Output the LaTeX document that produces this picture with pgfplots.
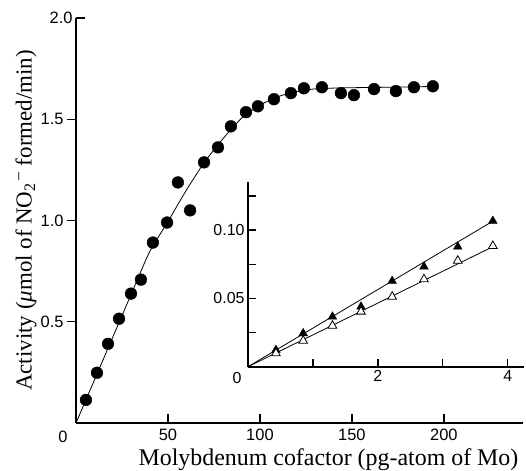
\documentclass[border=0pt]{standalone}
\usepackage{fontspec}
\setmainfont{Liberation Serif}
\newfontfamily\tickfont{Liberation Sans}
\usepackage{pgfplots}
\pgfplotsset{compat=1.18}
\begin{document}
\begin{tikzpicture}
\useasboundingbox (-76bp,-48bp) rectangle (450bp,423bp);
\begin{axis}[
  at={(0,0)}, anchor=south west,
  scale only axis, width=447bp, height=405bp,
  xmin=0, xmax=243, ymin=0, ymax=2,
  axis x line=bottom, axis y line=left,
  axis line style={-, line width=1.8bp},
  xtick={50,100,150,200},
  ytick={0.5,1,1.5},
  extra y ticks={2},
  extra y tick style={ytick align=inside},
  xtick align=inside, ytick align=outside,
  major tick length=9bp,
  tick style={line width=1.3bp, black},
  yticklabel style={/pgf/number format/fixed, /pgf/number format/precision=1, /pgf/number format/fixed zerofill},
  xticklabel style={yshift=-3bp},
  /pgf/number format/assume math mode=true,
  tick label style={font=\tickfont\fontsize{16.5}{16.5}\selectfont},
  xlabel={Molybdenum cofactor (pg-atom of Mo)},
  ylabel={Activity ({\itshape μ}mol of NO\textsubscript{2}\textsuperscript{\,–} formed/min)},
  xlabel style={font=\fontsize{24}{24}\selectfont, xshift=29bp, yshift=-1bp},
  ylabel style={font=\fontsize{23}{23}\selectfont, at={(axis description cs:-0.112,0.5)}, anchor=center},
  clip=false,
]
\addplot[black, line width=0.8bp, smooth, tension=0.4] coordinates {
(0,0) (10,0.212) (20,0.424) (30,0.636) (40,0.845) (50,0.995) (60,1.15) (70,1.29)
(80,1.405) (90,1.505) (100,1.57) (110,1.612) (120,1.637) (130,1.65) (145,1.655)
(170,1.658) (195,1.662)};
\addplot[only marks, mark=*, mark size=5.9bp, black] coordinates {
(5.4,0.114) (11.4,0.248) (17.4,0.391) (23.4,0.515) (29.9,0.639) (35.3,0.708)
(41.8,0.891) (49.5,0.990) (55.4,1.188) (62.0,1.050) (69.6,1.287) (77.2,1.361)
(84.2,1.465) (92.4,1.535) (98.9,1.564) (107.6,1.599) (116.8,1.629) (123.9,1.653)
(133.7,1.658) (144.0,1.629) (151.1,1.619) (162.0,1.649) (173.9,1.639)
(183.7,1.658) (194.0,1.663)};
\node[font=\tickfont\fontsize{16.5}{16.5}\selectfont, anchor=center] at (axis cs:0,0) [xshift=-13bp, yshift=-14bp] {0};
\end{axis}
\begin{axis}[
  at={(172bp,56.3bp)}, anchor=south west,
  scale only axis, width=276bp, height=185bp,
  xmin=0, xmax=4.25, ymin=0, ymax=0.1354,
  axis x line=bottom, axis y line=left,
  axis line style={-, line width=1.8bp},
  xtick={1,2,3,4}, xticklabels={,2,,4},
  ytick={0.025,0.05,0.075,0.1,0.125}, yticklabels={,0.05,,0.10,},
  tick align=inside,
  major tick length=8bp,
  tick style={line width=1.3bp, black},
  tick label style={font=\tickfont\fontsize{16}{16}\selectfont},
  clip=false,
]
\addplot[black, line width=0.8bp] coordinates {(0,0) (3.77,0.1065)};
\addplot[black, line width=0.8bp] coordinates {(0,0) (3.77,0.0878)};
\addplot[only marks, mark=triangle*, mark size=5bp, black] coordinates {
(0.43,0.0122) (0.85,0.0244) (1.30,0.0366) (1.74,0.0439) (2.22,0.0627)
(2.71,0.0732) (3.23,0.0878) (3.77,0.1067)};
\addplot[only marks, mark=triangle*, mark size=5bp, black, fill=white, mark options={line width=0.8bp}] coordinates {
(0.43,0.0098) (0.85,0.019) (1.30,0.030) (1.74,0.0403) (2.22,0.0512)
(2.71,0.064) (3.23,0.0776) (3.77,0.0884)};
\node[font=\tickfont\fontsize{16}{16}\selectfont, anchor=center] at (axis cs:0,0) [xshift=-11bp, yshift=-11bp] {0};
\end{axis}
\end{tikzpicture}
\end{document}
